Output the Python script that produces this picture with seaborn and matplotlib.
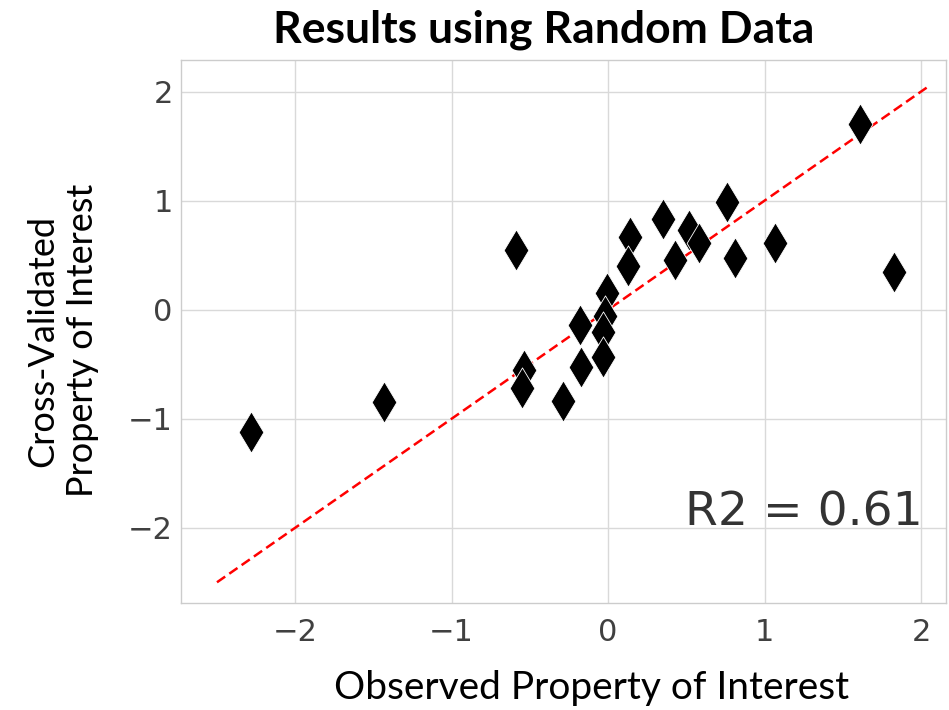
import numpy as np
import pandas as pd
import matplotlib
matplotlib.use("Agg")
import matplotlib.pyplot as plt
import seaborn as sns

# Data
observed = [-2.28, -1.43, -0.59, -0.54, -0.55, -0.29, -0.18, -0.17, -0.01, -0.02,
            -0.03, -0.03, 0.14, 0.13, 0.35, 0.43, 0.52, 0.58, 0.76, 0.81, 1.07, 1.61, 1.83]
predicted = [-1.12, -0.85, 0.55, -0.55, -0.72, -0.84, -0.14, -0.53, 0.15, -0.06,
             -0.20, -0.43, 0.67, 0.40, 0.83, 0.46, 0.73, 0.61, 0.99, 0.47, 0.61, 1.70, 0.35]
identity_line = [-2.5, 2.06]
r2_text = "R2 = 0.61"
title = "Results using Random Data"
xlabel = "Observed Property of Interest"
ylabel = "Cross-Validated\nProperty of Interest"
ticks = [-2, -1, 0, 1, 2]

df = pd.DataFrame({"observed": observed, "predicted": predicted})

sns.set_theme(style="whitegrid", rc={
    "axes.edgecolor": ".8",
    "grid.color": ".85",
    "axes.linewidth": 1.0,
    "xtick.color": ".25",
    "ytick.color": ".25",
})
plt.rcParams["font.family"] = ["DejaVu Sans"]

fig = plt.figure(figsize=(9.49, 7.10), dpi=100)
ax = fig.add_axes([181/949, 1-603/710, (946-181)/949, (603-60)/710])

sns.lineplot(x=identity_line, y=identity_line, ax=ax, color="red",
             linestyle="--", linewidth=1.8)
ax.lines[-1].set_dashes((4, 2))
sns.scatterplot(data=df, x="observed", y="predicted", ax=ax, marker="d",
                color="black", s=440, edgecolor="white", linewidth=0.6, zorder=3)

ax.set_xlim(-2.73, 2.16)
ax.set_ylim(-2.69, 2.29)
ax.set_xticks(ticks)
ax.set_yticks(ticks)
ax.tick_params(labelsize=22, length=0)
ax.tick_params(axis="x", pad=11)
ax.tick_params(axis="y", pad=6)

ax.set_xlabel(xlabel, fontsize=28, family="Lato", color="black")
ax.xaxis.set_label_coords(0.537, -0.157)
ax.xaxis.label.set_va("center")
ax.set_ylabel(ylabel, fontsize=26, family="Lato", color="black", linespacing=1.25)
ax.yaxis.set_label_coords(-0.155, 0.483)
ax.yaxis.label.set_va("center")

ax.text(0.97, 0.166, r2_text, transform=ax.transAxes, ha="right", va="center",
        fontsize=34, color=".2")

fig.text(544/949, 1-42/710, title, ha="center", va="baseline", fontsize=32,
         family="Lato", fontweight="bold", color="black")

fig.savefig("out.png", dpi=100)
